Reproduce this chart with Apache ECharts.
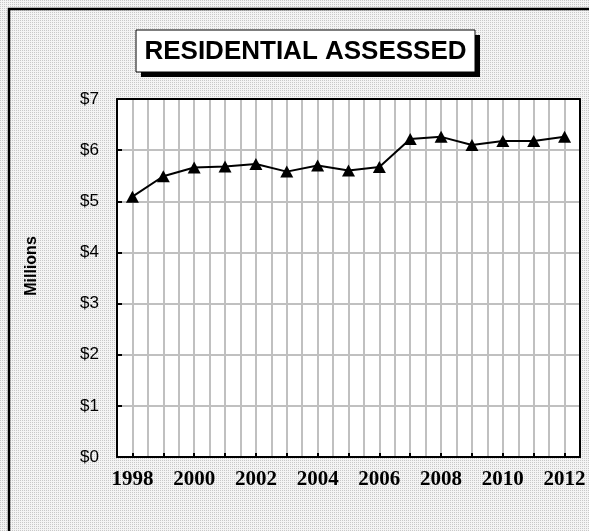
<!DOCTYPE html>
<html>
<head>
<meta charset="utf-8">
<script src="https://cdn.jsdelivr.net/npm/echarts@6/dist/echarts.min.js"></script>
<style>html,body{margin:0;padding:0;}#c{width:589px;height:531px;}</style>
</head>
<body>
<div id="c"></div>
<script>
const years = ['1998','1999','2000','2001','2002','2003','2004','2005','2006','2007','2008','2009','2010','2011','2012'];
const assessed = [5.09, 5.49, 5.66, 5.68, 5.73, 5.58, 5.70, 5.60, 5.67, 6.22, 6.26, 6.10, 6.18, 6.18, 6.26];
const yTicks = [0, 1, 2, 3, 4, 5, 6, 7];
const titleText = 'RESIDENTIAL ASSESSED';
const yName = 'Millions';

// dotted background pattern
const pc = document.createElement('canvas');
pc.width = 4; pc.height = 4;
const pctx = pc.getContext('2d');
pctx.fillStyle = '#f4f4f4'; pctx.fillRect(0,0,4,4);
pctx.fillStyle = '#c8c8c8';
pctx.fillRect(0,0,1,1); pctx.fillRect(2,2,1,1); pctx.fillRect(2,0,1,1); pctx.fillRect(0,2,1,1);

const chart = echarts.init(document.getElementById('c'), null, {renderer:'canvas'});
chart.setOption({
  animation: false,
  backgroundColor: {image: pc, repeat: 'repeat'},
  grid: {left: 117, top: 99, right: 9, bottom: 74, show: true, backgroundColor: '#ffffff', borderColor: '#000', borderWidth: 0, z: 0},
  xAxis: [{
    type: 'category', data: years, boundaryGap: true, position: 'bottom',
    axisLine: {show: true, lineStyle: {color: '#000', width: 2}},
    axisTick: {show: true, inside: true, alignWithLabel: true, interval: 0, length: 4, lineStyle: {color: '#000', width: 2}},
    axisLabel: {interval: 1, margin: 12, fontFamily: 'Liberation Serif', fontWeight: 'bold', fontSize: 21, color: '#000'},
    splitLine: {show: false}
  }, {
    type: 'value', min: 0, max: 30, interval: 1, position: 'top',
    axisLine: {show: true, onZero: false, lineStyle: {color: '#000', width: 2}}, axisTick: {show: false}, axisLabel: {show: false},
    splitLine: {show: true, lineStyle: {color: '#c0c0c0', width: 2}}
  }],
  yAxis: [{
    type: 'value', min: yTicks[0], max: yTicks[yTicks.length-1], interval: 1, position: 'left',
    axisLine: {show: true, lineStyle: {color: '#000', width: 2}},
    axisTick: {show: true, inside: true, length: 5, lineStyle: {color: '#000', width: 2}},
    axisLabel: {margin: 18, formatter: v => '$' + v, fontFamily: 'Liberation Sans', fontSize: 17, color: '#000'},
    splitLine: {show: true, lineStyle: {color: '#c0c0c0', width: 2}}
  }, {
    type: 'value', min: yTicks[0], max: yTicks[yTicks.length-1], interval: 1, position: 'right',
    axisLine: {show: true, onZero: false, lineStyle: {color: '#000', width: 2}},
    axisTick: {show: false}, axisLabel: {show: false}, splitLine: {show: false}
  }],
  graphic: [
    {type: 'rect', z: -10, silent: true, shape: {x: 9, y: 9, width: 700, height: 700}, style: {fill: 'none', stroke: '#000', lineWidth: 2.5}},
    {type: 'rect', z: 10, shape: {x: 141, y: 35, width: 339, height: 42}, style: {fill: '#000'}},
    {type: 'rect', z: 11, shape: {x: 136, y: 30, width: 339, height: 42}, style: {fill: '#fff', stroke: '#000', lineWidth: 1}},
    {type: 'text', z: 12, x: 305.5, y: 52, style: {text: titleText, fontFamily: 'Liberation Sans', fontWeight: 'bold', fontSize: 26, fill: '#000', align: 'center', verticalAlign: 'middle'}},
    {type: 'text', z: 12, x: 32, y: 266, rotation: Math.PI/2, style: {text: yName, fontFamily: 'Liberation Sans', fontWeight: 'bold', fontSize: 16, fill: '#000', align: 'center', verticalAlign: 'middle'}}
  ],
  series: [{
    type: 'line', xAxisIndex: 0, yAxisIndex: 0, data: assessed,
    lineStyle: {color: '#000', width: 2},
    itemStyle: {color: '#000'},
    symbol: 'triangle', symbolSize: [13, 12], showSymbol: true, z: 5
  }]
});
</script>
</body>
</html>
